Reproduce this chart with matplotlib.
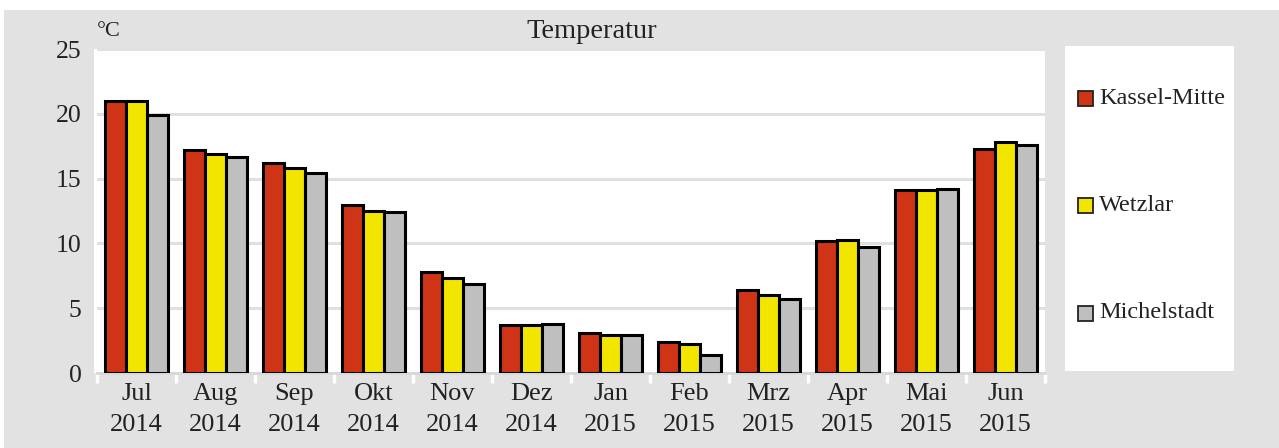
import numpy as np
import matplotlib.pyplot as plt
from matplotlib.patches import Rectangle

plt.rcParams['font.family'] = ['Liberation Serif', 'DejaVu Serif']

# monthly mean temperatures
months = ['Jul\n2014', 'Aug\n2014', 'Sep\n2014', 'Okt\n2014', 'Nov\n2014', 'Dez\n2014',
          'Jan\n2015', 'Feb\n2015', 'Mrz\n2015', 'Apr\n2015', 'Mai\n2015', 'Jun\n2015']
kassel = [21.0, 17.2, 16.2, 13.0, 7.8, 3.7, 3.1, 2.4, 6.4, 10.2, 14.1, 17.3]
wetzlar = [21.0, 16.9, 15.8, 12.5, 7.3, 3.7, 2.9, 2.2, 6.0, 10.3, 14.1, 17.8]
michelstadt = [19.9, 16.7, 15.4, 12.4, 6.9, 3.8, 2.9, 1.4, 5.7, 9.7, 14.2, 17.6]

stations = ['Kassel-Mitte', 'Wetzlar', 'Michelstadt']
colors = ['#cf3416', '#f2e500', '#bfbfbf']
bg = '#e2e2e2'
txt = '#222222'

W, H = 1279, 448
fig = plt.figure(figsize=(W / 100, H / 100), dpi=100)
fig.patch.set_facecolor('white')
fig.patches.append(Rectangle((4 / W, 0), 1 - 4 / W, (H - 10) / H,
                             transform=fig.transFigure, facecolor=bg,
                             edgecolor='none', zorder=-10))

# white plot panel is a touch wider than the axes on the left
fig.patches.append(Rectangle((94 / W, (H - 373) / H), 4 / W, 324 / H,
                             transform=fig.transFigure, facecolor='white',
                             edgecolor='none', zorder=-5))

ax = fig.add_axes([97 / W, (H - 373) / H, 948 / W, 324 / H])
ax.set_facecolor('white')

x = np.arange(len(months))
bw = 0.265
for i, (vals, c) in enumerate(zip([kassel, wetzlar, michelstadt], colors)):
    ax.bar(x + (i - 1) * bw, vals, width=bw, color=c, edgecolor='black',
           linewidth=2.2, zorder=3)

ax.set_xlim(-0.5, len(months) - 0.5)
ax.set_ylim(0, 25)
ax.set_yticks(range(0, 26, 5))
ax.yaxis.grid(True, color='#e0e0e0', linewidth=2.2, zorder=0)
ax.tick_params(axis='y', length=0, pad=11, labelsize=18.5, labelcolor=txt)

ax.set_xticks(x)
ax.set_xticklabels(months, fontsize=19, color=txt, linespacing=1.55)
ax.set_xticks(np.arange(-0.5, len(months)), minor=True)
ax.tick_params(axis='x', which='major', length=0, pad=7)
ax.tick_params(axis='x', which='minor', length=7, width=2.5, color='white')

for s in ['top', 'right', 'left']:
    ax.spines[s].set_visible(False)
ax.spines['bottom'].set_color('#d8d8d8')
ax.spines['bottom'].set_linewidth(2)

fig.text(592 / W, 1 - 32 / H, 'Temperatur', ha='center', va='center',
         fontsize=20.5, color=txt)
fig.text(97 / W, 1 - 31 / H, '°C', ha='left', va='center', fontsize=16,
         color=txt)

# legend panel
lax = fig.add_axes([1065 / W, (H - 371) / H, 169 / W, 325 / H])
lax.set_xlim(0, 169)
lax.set_ylim(325, 0)
lax.axis('off')
lax.add_patch(Rectangle((0, 0), 169, 325, facecolor='white', edgecolor='none'))
for k, (name, c) in enumerate(zip(stations, colors)):
    yc = 53 + k * 107
    lax.add_patch(Rectangle((13, yc - 7.5), 15, 15, facecolor=c,
                            edgecolor=txt, linewidth=1.3))
    lax.text(34, yc - 1, name, va='center', ha='left', fontsize=17.5, color=txt)

fig.savefig('out.png', dpi=100, facecolor=fig.get_facecolor())
